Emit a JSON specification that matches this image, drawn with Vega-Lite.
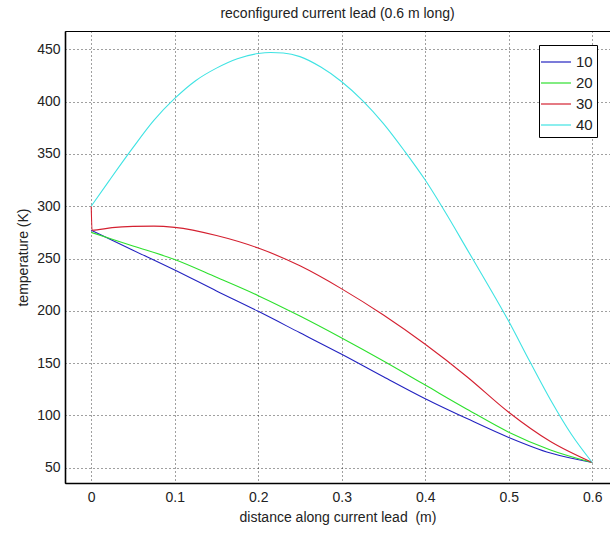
{
  "$schema": "https://vega.github.io/schema/vega-lite/v6.json",
  "width": 545,
  "height": 452,
  "autosize": {"type": "none"},
  "padding": {"left": 65, "top": 31, "right": 0, "bottom": 54},
  "background": "white",
  "title": {"text": "reconfigured current lead (0.6 m long)", "fontSize": 14, "fontWeight": "normal", "color": "#222", "font": "Liberation Sans", "offset": 10},
  "data": {"values": [
    {"x": 0, "T": 277, "s": "10"}, {"x": 0.05, "T": 258, "s": "10"}, {"x": 0.1, "T": 239, "s": "10"}, {"x": 0.15, "T": 219, "s": "10"}, {"x": 0.2, "T": 199.5, "s": "10"}, {"x": 0.25, "T": 179, "s": "10"}, {"x": 0.3, "T": 158.5, "s": "10"}, {"x": 0.35, "T": 137, "s": "10"}, {"x": 0.4, "T": 116, "s": "10"}, {"x": 0.45, "T": 97, "s": "10"}, {"x": 0.5, "T": 79, "s": "10"}, {"x": 0.55, "T": 64, "s": "10"}, {"x": 0.6, "T": 55, "s": "10"},
    {"x": 0, "T": 275, "s": "20"}, {"x": 0.05, "T": 262, "s": "20"}, {"x": 0.1, "T": 249, "s": "20"}, {"x": 0.15, "T": 232, "s": "20"}, {"x": 0.2, "T": 214.5, "s": "20"}, {"x": 0.25, "T": 195, "s": "20"}, {"x": 0.3, "T": 174, "s": "20"}, {"x": 0.35, "T": 152, "s": "20"}, {"x": 0.4, "T": 129, "s": "20"}, {"x": 0.45, "T": 106, "s": "20"}, {"x": 0.5, "T": 84, "s": "20"}, {"x": 0.55, "T": 67, "s": "20"}, {"x": 0.6, "T": 55, "s": "20"},
    {"x": 0, "T": 300, "s": "30"}, {"x": 0.001, "T": 277, "s": "30"}, {"x": 0.025, "T": 279.5, "s": "30"}, {"x": 0.05, "T": 280.7, "s": "30"}, {"x": 0.075, "T": 281, "s": "30"}, {"x": 0.1, "T": 279.8, "s": "30"}, {"x": 0.15, "T": 272, "s": "30"}, {"x": 0.2, "T": 260, "s": "30"}, {"x": 0.25, "T": 243, "s": "30"}, {"x": 0.3, "T": 221, "s": "30"}, {"x": 0.35, "T": 196, "s": "30"}, {"x": 0.4, "T": 168, "s": "30"}, {"x": 0.45, "T": 137, "s": "30"}, {"x": 0.5, "T": 103, "s": "30"}, {"x": 0.55, "T": 75, "s": "30"}, {"x": 0.6, "T": 55, "s": "30"},
    {"x": 0, "T": 300, "s": "40"}, {"x": 0.022, "T": 325, "s": "40"}, {"x": 0.05, "T": 356, "s": "40"}, {"x": 0.075, "T": 382, "s": "40"}, {"x": 0.1, "T": 403, "s": "40"}, {"x": 0.125, "T": 420, "s": "40"}, {"x": 0.15, "T": 432, "s": "40"}, {"x": 0.175, "T": 441, "s": "40"}, {"x": 0.2, "T": 446, "s": "40"}, {"x": 0.215, "T": 447, "s": "40"}, {"x": 0.23, "T": 446.5, "s": "40"}, {"x": 0.25, "T": 443, "s": "40"}, {"x": 0.275, "T": 433, "s": "40"}, {"x": 0.3, "T": 419, "s": "40"}, {"x": 0.325, "T": 401, "s": "40"}, {"x": 0.35, "T": 379, "s": "40"}, {"x": 0.375, "T": 353, "s": "40"}, {"x": 0.4, "T": 325, "s": "40"}, {"x": 0.425, "T": 293, "s": "40"}, {"x": 0.45, "T": 259, "s": "40"}, {"x": 0.475, "T": 225, "s": "40"}, {"x": 0.5, "T": 190, "s": "40"}, {"x": 0.525, "T": 152, "s": "40"}, {"x": 0.55, "T": 115, "s": "40"}, {"x": 0.575, "T": 82, "s": "40"}, {"x": 0.6, "T": 55, "s": "40"}
  ]},
  "mark": {"type": "line", "strokeWidth": 1.1, "clip": true, "interpolate": "monotone"},
  "encoding": {
    "x": {"field": "x", "type": "quantitative", "scale": {"domain": [-0.0314, 0.6213], "nice": false, "zero": false},
      "axis": {"title": "distance along current lead\u00a0\u00a0(m)", "values": [0, 0.1, 0.2, 0.3, 0.4, 0.5, 0.6], "format": ".1~f", "labelPadding": 7, "titlePadding": 6}},
    "y": {"field": "T", "type": "quantitative", "scale": {"domain": [35.4, 467.5], "nice": false, "zero": false},
      "axis": {"title": "temperature (K)", "values": [50, 100, 150, 200, 250, 300, 350, 400, 450], "labelPadding": 5, "titlePadding": 6}},
    "color": {"field": "s", "type": "nominal", "sort": ["10", "20", "30", "40"],
      "scale": {"domain": ["10", "20", "30", "40"], "range": ["#2323c0", "#2ee02e", "#d42030", "#3fe3e3"]},
      "legend": {"title": null, "orient": "none", "legendX": 474, "legendY": 14, "symbolType": "M-1.25,0H1.25", "symbolSize": 576, "symbolStrokeWidth": 1.2, "labelFontSize": 15, "labelColor": "#222", "labelOffset": 7, "rowPadding": 0, "padding": 4, "strokeColor": "black", "fillColor": "white", "cornerRadius": 0}}
  },
  "config": {
    "font": "Liberation Sans",
    "view": {"stroke": "black", "strokeWidth": 1},
    "axis": {"grid": true, "gridColor": "black", "gridDash": [1, 3], "gridOpacity": 0.75, "gridWidth": 1, "ticks": false, "domainColor": "black", "domainWidth": 1.6, "labelFontSize": 14, "labelColor": "#222", "labelFont": "Liberation Sans", "titleFont": "Liberation Sans", "titleFontSize": 14, "titleFontWeight": "normal", "titleColor": "#222"},
    "legend": {"labelFont": "Liberation Sans"}
  }
}
